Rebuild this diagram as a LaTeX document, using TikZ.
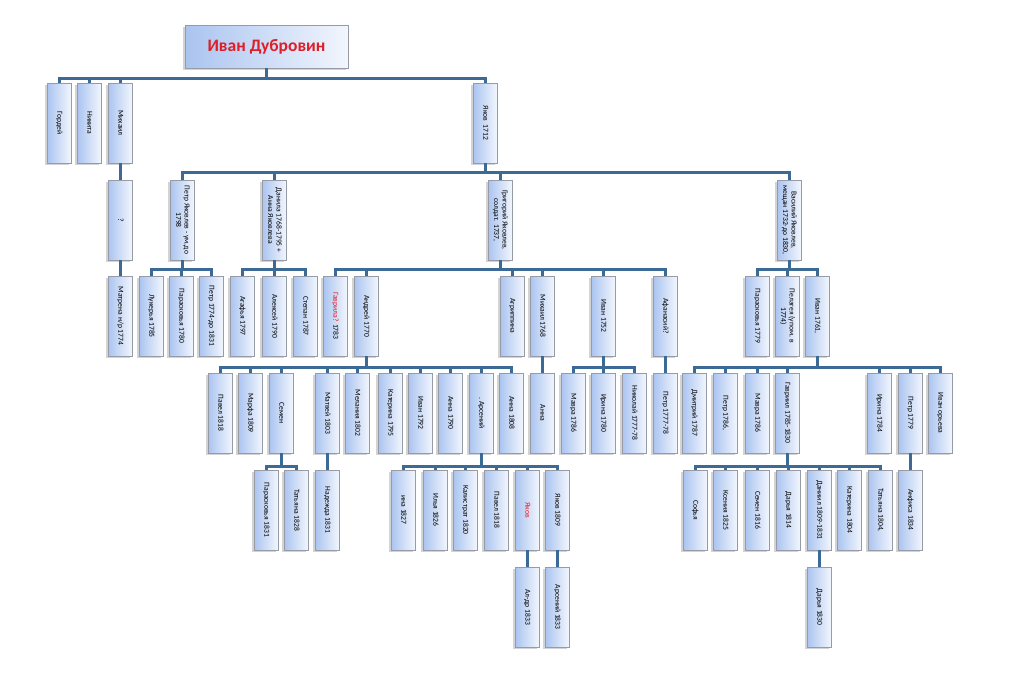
\documentclass[tikz,border=0pt]{standalone}
\usepackage{fontspec}
\setmainfont{Carlito}
\usetikzlibrary{shadows}
\definecolor{conncol}{RGB}{60,106,150}
\definecolor{boxL}{RGB}{170,196,240}
\definecolor{boxR}{RGB}{242,246,253}
\definecolor{rootred}{RGB}{222,30,40}
\definecolor{boxedge}{RGB}{150,155,165}
\tikzset{
  pbox/.style={draw=boxedge, line width=0.6pt, left color=boxL, right color=boxR,
    minimum width=24pt, minimum height=80pt, inner sep=0pt,
    drop shadow={shadow xshift=-1.6pt, shadow yshift=-1.6pt, opacity=0.35}},
  rootbox/.style={draw=boxedge, line width=0.8pt, left color=boxL, right color=boxR,
    minimum width=163pt, minimum height=43pt, inner sep=0pt,
    drop shadow={shadow xshift=-2pt, shadow yshift=-2pt, opacity=0.35}},
  conn/.style={draw=conncol, line width=3pt}
}
\newcommand\bxfont{\fontsize{7.6}{8.4}\selectfont}
\newcommand\bx[4]{\node[pbox] (#1) at (#2,#3) {\rotatebox{-90}{\bxfont\begin{tabular}{@{}c@{}}#4\end{tabular}}};}
\newcommand\famly[3]{\foreach \c in {#3}{\draw[conn] (#1.south) -- (#1.south |- 0,#2) -| (\c.north);}}
\newcommand\lnk[2]{\draw[conn] (#1.south) -- (#2.north);}
\begin{document}
\begin{tikzpicture}[x=1pt,y=-1pt]
\useasboundingbox (0,0) rectangle (1024,672);
\node[rootbox] (root) at (266.5,46.5) {\fontsize{17.5}{20}\selectfont\bfseries\color{rootred}Иван Дубровин};
% row 1
\bx{gordey}{59}{123}{Гордей}
\bx{nikita}{89}{123}{Никита}
\bx{mikhail}{120}{123}{Михаил}
\bx{yakov}{485}{123}{Яков\ \ 1712}
% row 2
\bx{q}{120}{220}{?}
\bx{petrY}{182}{220}{Петр Яковлев - ум.до\\1798}
\bx{danila}{274}{220}{Данила 1768-1795 +\\Анна Яковлева}
\bx{grigoriy}{500}{220}{Григорий Яковлев,\\солдат. 1737,}
\bx{vasiliy}{789}{220}{Василий Яковлев,\\мещан 1732-до 1830,}
% row 3
\bx{matrena}{120}{316}{Матрена н/р 1774}
\bx{lukerya}{151}{316}{Лукерья 1785}
\bx{paraskevaA}{181}{316}{Парасковья 1780}
\bx{petrB}{211}{316}{Петр 1774-до 1831}
\bx{agafya}{242}{316}{Агафья 1797}
\bx{aleksey}{274}{316}{Алексей 1790}
\bx{stepan}{305}{316}{Степан 1787}
\bx{gavrila}{335}{316}{\textcolor{rootred}{Гаврила?} 1783}
\bx{andrey}{366}{316}{Андрей 1770}
\bx{agrippina}{512}{316}{Агриппина}
\bx{mikhailB}{542}{316}{Михаил 1768}
\bx{ivanA}{603}{316}{Иван 1752}
\bx{afanasiy}{665}{316}{Афанасий?}
\bx{paraskevaB}{757}{316}{Парасковья 1779}
\bx{pelageya}{787}{316}{Пелагея (упом. в\\1774)}
\bx{ivanB}{817}{316}{Иван 1761,}
% row 4
\bx{pavelA}{220}{413}{Павел 1818}
\bx{marfa}{250}{413}{Марфа 1809}
\bx{semen}{281}{413}{Семен}
\bx{matvey}{327}{413}{Матвей 1803}
\bx{melaniya}{357}{413}{Мелания 1802}
\bx{katerinaA}{390}{413}{Катерина 1795}
\bx{ivanC}{420}{413}{Иван 1792}
\bx{annaA}{450}{413}{Анна 1790}
\bx{arseniy}{481}{413}{. Арсений}
\bx{annaB}{511}{413}{Анна 1808}
\bx{annaC}{542}{413}{Анна}
\bx{mavraA}{573}{413}{Мавра 1786}
\bx{irinaA}{603}{413}{Ирина 1780}
\bx{nikolay}{634}{413}{Николай 1777-78}
\bx{petrC}{665}{413}{Петр 1777-78}
\bx{dmitriy}{694}{413}{Дмитрий 1787}
\bx{petrD}{725}{413}{Петр 1786,}
\bx{mavraB}{757}{413}{Мавра 1786}
\bx{gavriil}{787}{413}{Гавриил 1785-1830}
\bx{irinaB}{879}{413}{Ирина 1784}
\bx{petrE}{910}{413}{Петр 1779}
\bx{ivanD}{940}{413}{Иван орьева}
% row 5
\bx{paraskevaC}{266}{510}{Парасковья 1831}
\bx{tatyanaA}{296}{510}{Татьяна 1828}
\bx{nadezhda}{327}{510}{Надежда 1831}
\bx{ina}{403}{510}{ина 1827}
\bx{ilya}{435}{510}{Илья 1826}
\bx{kalistrat}{465}{510}{Калистрат 1820}
\bx{pavelB}{496}{510}{Павел 1818}
\bx{yakovR}{527}{510}{\textcolor{rootred}{Яков}}
\bx{yakovB}{557}{510}{Яков 1809}
\bx{sofya}{695}{510}{Софья}
\bx{kseniya}{725}{510}{Ксения 1825}
\bx{semenB}{757}{510}{Семен 1816}
\bx{darya}{788}{510}{Дарья 1814}
\bx{daniil}{819}{510}{Даниил 1809-1831}
\bx{katerinaB}{849}{510}{Катерина 1804}
\bx{tatyanaB}{880}{510}{Татьяна 1804,}
\bx{anfisa}{910}{510}{Анфиса 1834}
% row 6
\bx{aldr}{527}{607}{Ал-др 1833}
\bx{arseniyB}{557}{607}{Арсений 1833}
\bx{daryaB}{819}{607}{Дарья 1830}
% connectors
\famly{root}{78}{gordey,nikita,mikhail,yakov}
\lnk{mikhail}{q}
\lnk{q}{matrena}
\famly{yakov}{172}{petrY,danila,grigoriy,vasiliy}
\famly{petrY}{269}{lukerya,paraskevaA,petrB}
\famly{danila}{269}{agafya,aleksey,stepan}
\famly{grigoriy}{269}{gavrila,andrey,agrippina,mikhailB,ivanA,afanasiy}
\famly{vasiliy}{269}{paraskevaB,pelageya,ivanB}
\famly{andrey}{367}{pavelA,marfa,semen,matvey,melaniya,katerinaA,ivanC,annaA,arseniy,annaB}
\lnk{mikhailB}{annaC}
\famly{ivanA}{367}{mavraA,irinaA,nikolay}
\lnk{afanasiy}{petrC}
\famly{ivanB}{367}{dmitriy,petrD,mavraB,gavriil,irinaB,petrE,ivanD}
\famly{semen}{466}{paraskevaC,tatyanaA}
\lnk{matvey}{nadezhda}
\famly{arseniy}{466}{ina,ilya,kalistrat,pavelB,yakovR,yakovB}
\famly{gavriil}{466}{sofya,kseniya,semenB,darya,daniil,katerinaB,tatyanaB}
\lnk{petrE}{anfisa}
\lnk{yakovR}{aldr}
\lnk{yakovB}{arseniyB}
\lnk{daniil}{daryaB}
\end{tikzpicture}
\end{document}
